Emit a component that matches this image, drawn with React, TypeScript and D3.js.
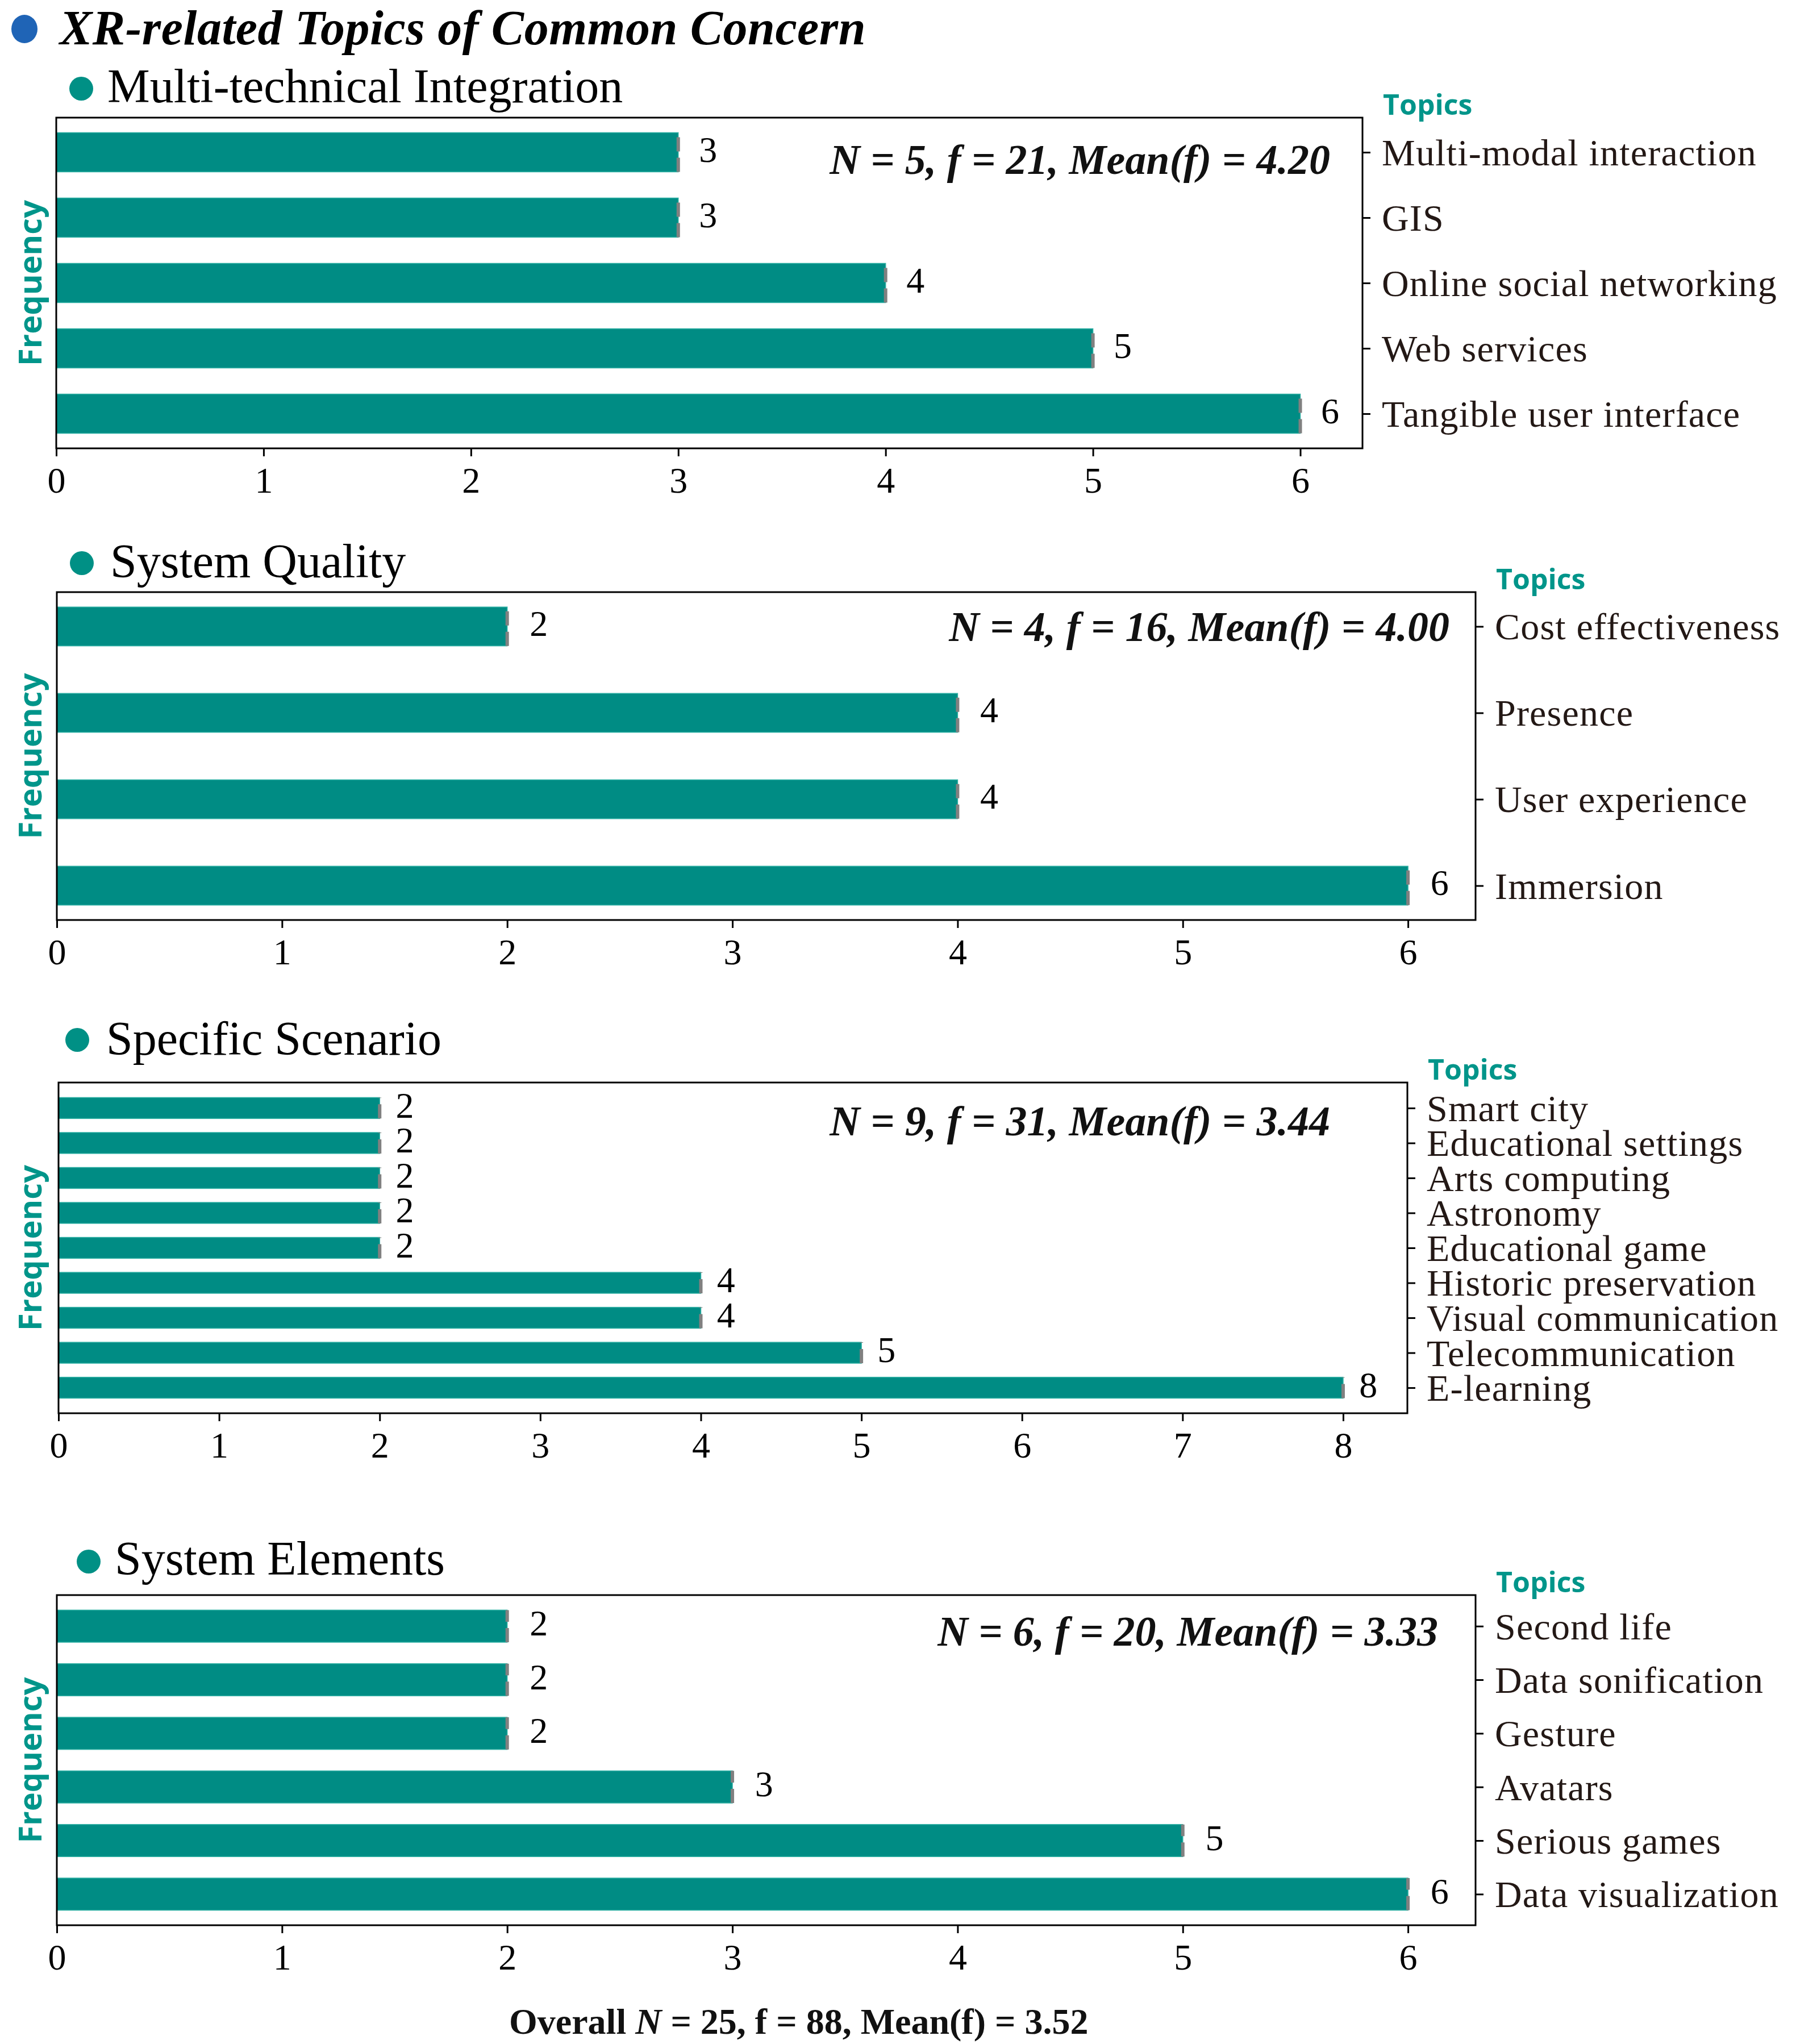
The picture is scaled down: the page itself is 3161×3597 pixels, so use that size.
import * as React from "react";
import * as d3 from "d3";

// ---- data (top to bottom as shown) ----
const mainTitle = "XR-related Topics of Common Concern";

const sectionNames = [
  "Multi-technical Integration",
  "System Quality",
  "Specific Scenario",
  "System Elements",
];

const mtiTopics = [
  "Multi-modal interaction",
  "GIS",
  "Online social networking",
  "Web services",
  "Tangible user interface",
];
const mtiValues = [3, 3, 4, 5, 6];

const sqTopics = ["Cost effectiveness", "Presence", "User experience", "Immersion"];
const sqValues = [2, 4, 4, 6];

const ssTopics = [
  "Smart city",
  "Educational settings",
  "Arts computing",
  "Astronomy",
  "Educational game",
  "Historic preservation",
  "Visual communication",
  "Telecommunication",
  "E-learning",
];
const ssValues = [2, 2, 2, 2, 2, 4, 4, 5, 8];

const seTopics = [
  "Second life",
  "Data sonification",
  "Gesture",
  "Avatars",
  "Serious games",
  "Data visualization",
];
const seValues = [2, 2, 2, 3, 5, 6];

const overallN = 25;
const overallF = 88;

// ---- layout / style ----
interface Layout {
  top: number;
  bottom: number;
  left: number;
  right: number;
  barH: number;
  dotX: number;
  dotY: number;
  titleX: number;
  titleY: number;
  statsX: number;
  statsY: number;
}

const layouts: Layout[] = [
  { top: 207, bottom: 789, left: 99, right: 2398, barH: 0.6, dotX: 143, dotY: 156, titleX: 189, titleY: 180, statsX: 2341, statsY: 306 },
  { top: 1042, bottom: 1619, left: 100, right: 2597, barH: 0.45, dotX: 144, dotY: 991, titleX: 194, titleY: 1016, statsX: 2551, statsY: 1128 },
  { top: 1905, bottom: 2487, left: 103, right: 2477, barH: 0.6, dotX: 136, dotY: 1830, titleX: 187, titleY: 1856, statsX: 2341, statsY: 1998 },
  { top: 2807, bottom: 3388, left: 100, right: 2597, barH: 0.6, dotX: 156, dotY: 2748, titleX: 202, titleY: 2771, statsX: 2531, statsY: 2896 },
];

const W = 3161;
const H = 3597;
const teal = "#008c84";
const tealText = "#00958a";
const serif = '"Liberation Serif", "Times New Roman", serif';
const sans = '"Open Sans", "Noto Sans", sans-serif';

function drawChart(svgRef: React.RefObject<SVGSVGElement | null>) {
  const svg = d3.select(svgRef.current);
  svg.selectAll("*").remove();
  svg.attr("width", W).attr("height", H).attr("viewBox", `0 0 ${W} ${H}`);

  svg.append("rect").attr("width", W).attr("height", H).attr("fill", "#fff");

  // main header
  svg
    .append("ellipse")
    .attr("cx", 43)
    .attr("cy", 51)
    .attr("rx", 23)
    .attr("ry", 25)
    .attr("fill", "#1f64b6");
  svg
    .append("text")
    .attr("x", 105)
    .attr("y", 78)
    .attr("font-family", serif)
    .attr("font-style", "italic")
    .attr("font-weight", "bold")
    .attr("font-size", 86)
    .attr("letter-spacing", 0.5)
    .text(mainTitle);

  const panels = [
    { topics: mtiTopics, values: mtiValues },
    { topics: sqTopics, values: sqValues },
    { topics: ssTopics, values: ssValues },
    { topics: seTopics, values: seValues },
  ];

  panels.forEach((p, k) => {
    const L = layouts[k];
    const n = p.topics.length;
    const maxV = d3.max(p.values)!;
    const span = n - 1 + L.barH;
    const pad = 0.05 * span;

    const x = d3
      .scaleLinear()
      .domain([0, maxV * 1.05])
      .range([L.left, L.right]);
    const y = d3
      .scaleLinear()
      .domain([-L.barH / 2 - pad, n - 1 + L.barH / 2 + pad])
      .range([L.top, L.bottom]);
    const bh = y(L.barH) - y(0);

    const g = svg.append("g");

    // section title
    g.append("circle")
      .attr("cx", L.dotX)
      .attr("cy", L.dotY)
      .attr("r", 21)
      .attr("fill", "#009085");
    g.append("text")
      .attr("x", L.titleX)
      .attr("y", L.titleY)
      .attr("font-family", serif)
      .attr("font-size", 84)
      .text(sectionNames[k]);

    // bars
    g.selectAll("rect.bar")
      .data(p.values)
      .enter()
      .append("rect")
      .attr("class", "bar")
      .attr("x", x(0))
      .attr("y", (_d, i) => y(i) - bh / 2)
      .attr("width", (d) => x(d) - x(0))
      .attr("height", bh)
      .attr("fill", teal)
      .attr("stroke", "#2fb0a4")
      .attr("stroke-width", 1.5);

    // grey dashed cap at bar ends
    g.selectAll("line.cap")
      .data(p.values)
      .enter()
      .append("line")
      .attr("x1", (d) => x(d))
      .attr("x2", (d) => x(d))
      .attr("y1", (_d, i) => y(i) + bh / 2)
      .attr("y2", (_d, i) => y(i) - bh / 2)
      .attr("stroke", "#808080")
      .attr("stroke-width", 6)
      .attr("stroke-dasharray", "25,11");

    // value labels
    g.selectAll("text.val")
      .data(p.values)
      .enter()
      .append("text")
      .attr("x", (d) => x(d + 0.1))
      .attr("y", (_d, i) => y(i))
      .attr("dy", "0.26em")
      .attr("font-family", serif)
      .attr("font-size", 64)
      .text((d) => `${d}`);

    // frame
    g.append("rect")
      .attr("x", L.left)
      .attr("y", L.top)
      .attr("width", L.right - L.left)
      .attr("height", L.bottom - L.top)
      .attr("fill", "none")
      .attr("stroke", "#000")
      .attr("stroke-width", 3);

    // bottom axis
    const xAxis = d3
      .axisBottom(x)
      .tickValues(d3.range(0, maxV + 1))
      .tickFormat(d3.format("d"))
      .tickSize(14)
      .tickSizeOuter(0)
      .tickPadding(19);
    const ax = g
      .append("g")
      .attr("transform", `translate(0, ${L.bottom})`)
      .call(xAxis);
    ax.select(".domain").remove();
    ax.selectAll("line").attr("stroke", "#000").attr("stroke-width", 3);
    ax.selectAll("text")
      .attr("font-family", serif)
      .attr("font-size", 64)
      .attr("fill", "#000");

    // right axis with topics
    const yAxis = d3
      .axisRight(y)
      .tickValues(d3.range(n))
      .tickFormat((i) => p.topics[i as number])
      .tickSize(14)
      .tickSizeOuter(0)
      .tickPadding(20);
    const ay = g
      .append("g")
      .attr("transform", `translate(${L.right}, 0)`)
      .call(yAxis);
    ay.select(".domain").remove();
    ay.selectAll("line").attr("stroke", "#000").attr("stroke-width", 3);
    ay.selectAll("text")
      .attr("font-family", serif)
      .attr("font-size", 66)
      .attr("letter-spacing", 1.2)
      .attr("dy", "0.34em")
      .attr("fill", "#231815");

    // axis titles
    g.append("text")
      .attr("x", L.right + 36)
      .attr("y", L.top - 5)
      .attr("font-family", sans)
      .attr("font-weight", "bold")
      .attr("font-size", 50)
      .attr("fill", tealText)
      .text("Topics");
    g.append("text")
      .attr("transform", `translate(73, ${(L.top + L.bottom) / 2}) rotate(-90)`)
      .attr("text-anchor", "middle")
      .attr("font-family", sans)
      .attr("font-weight", "bold")
      .attr("font-size", 56)
      .attr("fill", tealText)
      .text("Frequency");

    // stats
    const f = d3.sum(p.values);
    g.append("text")
      .attr("x", L.statsX)
      .attr("y", L.statsY)
      .attr("text-anchor", "end")
      .attr("font-family", serif)
      .attr("font-style", "italic")
      .attr("font-weight", "bold")
      .attr("font-size", 74)
      .attr("fill", "#111")
      .text(`N = ${n}, f = ${f}, Mean(f) = ${(f / n).toFixed(2)}`);
  });

  // overall footer
  const foot = svg
    .append("text")
    .attr("x", 896)
    .attr("y", 3579)
    .attr("font-family", serif)
    .attr("font-weight", "bold")
    .attr("font-size", 64)
    .attr("fill", "#111");
  foot.append("tspan").text("Overall ");
  foot.append("tspan").attr("font-style", "italic").text("N");
  foot
    .append("tspan")
    .text(` = ${overallN}, f = ${overallF}, Mean(f) = ${(overallF / overallN).toFixed(2)}`);
}

export default function App() {
  const svg = React.useRef<SVGSVGElement>(null);
  React.useEffect(() => {
    drawChart(svg);
  }, [svg]);

  return (
    <svg
      ref={svg}
      style={{ position: "absolute", left: 0, top: 0, display: "block" }}
    />
  );
}
